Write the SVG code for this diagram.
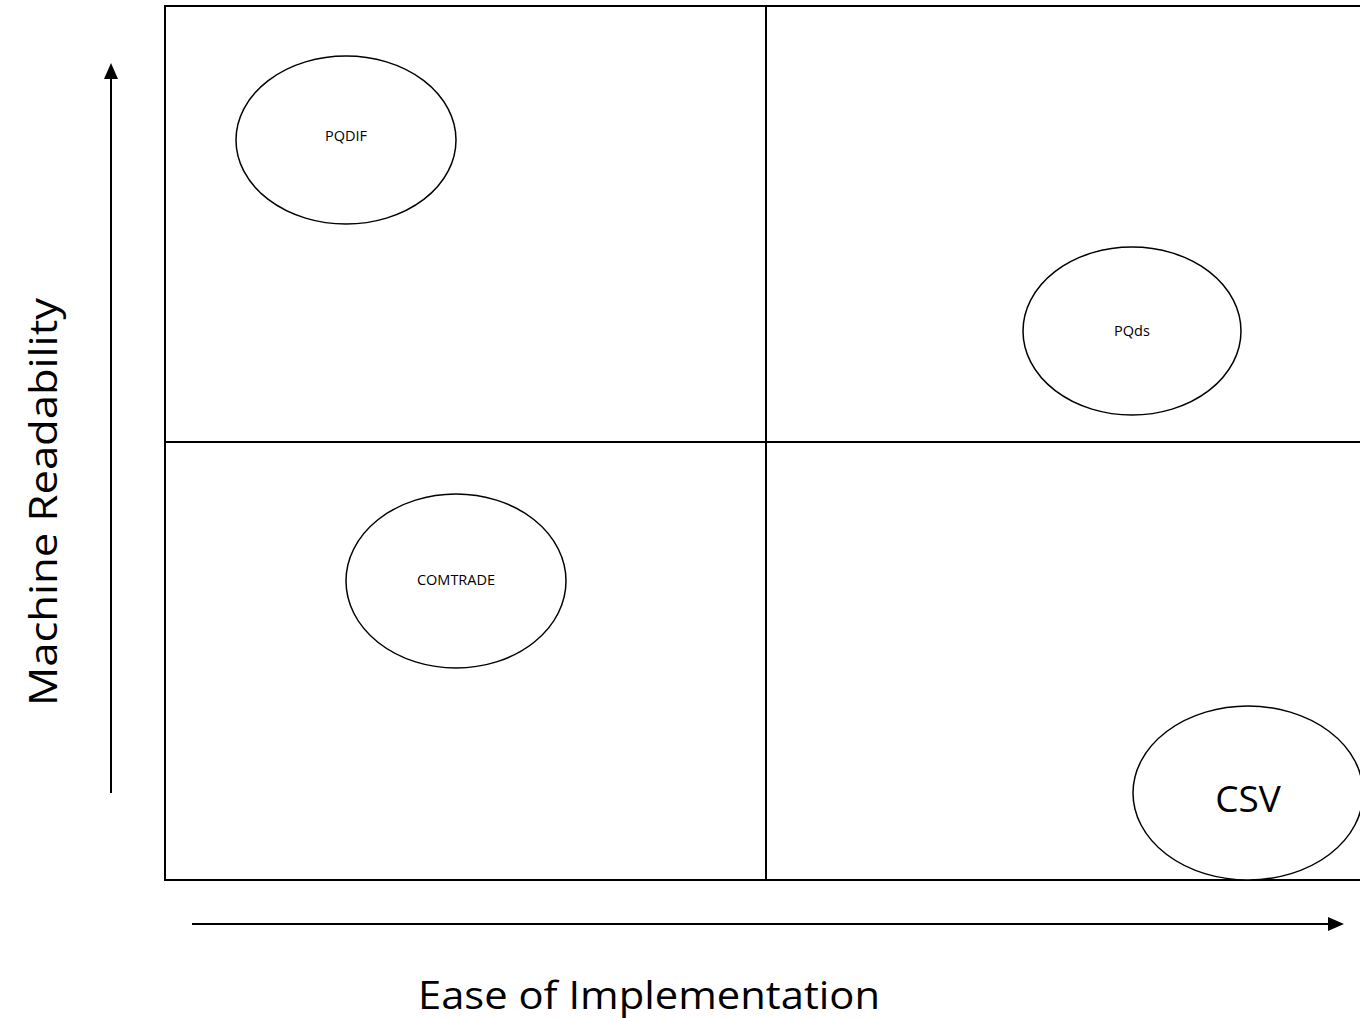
<svg xmlns="http://www.w3.org/2000/svg" width="1360" height="1018" viewBox="0 0 1360 1018">
  <style>
    .grid { fill: none; stroke: #000; stroke-width: 2; }
    .node { fill: #fff; stroke: #000; stroke-width: 1.5; }
    .lbl { font-family: "Open Sans", "Liberation Sans", sans-serif; fill: #000; text-anchor: middle; }
    .small { font-size: 14.5px; }
    .axis { font-size: 38px; }
    .axisline { stroke: #000; stroke-width: 2; fill: none; }
  </style>
  <rect width="1360" height="1018" fill="#fff"/>

  <!-- quadrant grid -->
  <g id="grid">
    <path class="grid" d="M1362,6 H165 V880 H1362"/>
    <line class="grid" x1="766" y1="6" x2="766" y2="880"/>
    <line class="grid" x1="165" y1="442" x2="1362" y2="442"/>
  </g>

  <!-- axes with arrowheads -->
  <g id="connectors">
    <line class="axisline" x1="111" y1="793" x2="111" y2="76"/>
    <path d="M104,79 L111,63 L118,79 Z" fill="#000"/>
    <line class="axisline" x1="192" y1="924" x2="1330" y2="924"/>
    <path d="M1328,917 L1344,924 L1328,931 Z" fill="#000"/>
  </g>

  <g id="label-y">
    <text class="lbl axis" transform="translate(57,502) rotate(-90)" textLength="408" lengthAdjust="spacingAndGlyphs">Machine Readability</text>
  </g>
  <g id="label-x">
    <text class="lbl axis" x="649" y="1009" textLength="462" lengthAdjust="spacingAndGlyphs">Ease of Implementation</text>
  </g>

  <g id="node-pqdif">
    <ellipse class="node" cx="346" cy="140" rx="110" ry="84"/>
    <text class="lbl small" x="346" y="141">PQDIF</text>
  </g>
  <g id="node-pqds">
    <ellipse class="node" cx="1132" cy="331" rx="109" ry="84"/>
    <text class="lbl small" x="1132" y="336">PQds</text>
  </g>
  <g id="node-comtrade">
    <ellipse class="node" cx="456" cy="581" rx="110" ry="87"/>
    <text class="lbl small" x="456" y="585">COMTRADE</text>
  </g>
  <g id="node-csv">
    <ellipse class="node" cx="1248" cy="793" rx="115" ry="87"/>
    <text class="lbl" x="1248" y="812" style="font-size:37px">CSV</text>
  </g>
</svg>
